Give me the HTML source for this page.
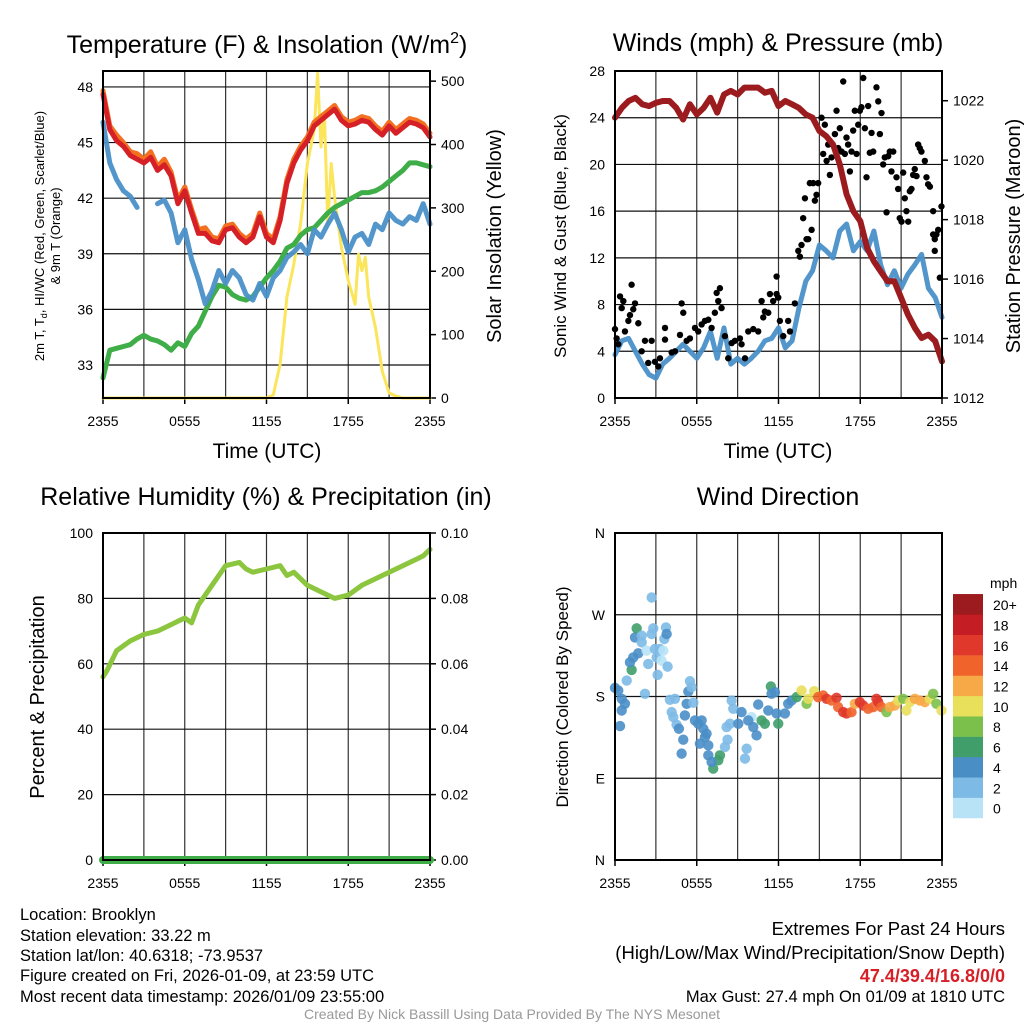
<!DOCTYPE html>
<html><head><meta charset="utf-8"><style>
html,body{margin:0;padding:0;background:#fff;}
svg{display:block;font-family:"Liberation Sans",sans-serif;}
</style></head><body>
<svg id="c" width="1024" height="1024" viewBox="0 0 1024 1024" xmlns="http://www.w3.org/2000/svg">
<g id="g"></g>
<g font-size="16.5" fill="#000">
<text x="20" y="920">Location: Brooklyn</text>
<text x="20" y="941">Station elevation: 33.22 m</text>
<text x="20" y="961">Station lat/lon: 40.6318; -73.9537</text>
<text x="20" y="981">Figure created on Fri, 2026-01-09, at 23:59 UTC</text>
<text x="20" y="1002">Most recent data timestamp: 2026/01/09 23:55:00</text>
<text x="1005" y="935" font-size="18.5" text-anchor="end">Extremes For Past 24 Hours</text>
<text x="1005" y="959" font-size="18.5" text-anchor="end">(High/Low/Max Wind/Precipitation/Snow Depth)</text>
<text x="1005" y="982" font-size="18" font-weight="bold" fill="#d62027" text-anchor="end">47.4/39.4/16.8/0/0</text>
<text x="1005" y="1002" text-anchor="end">Max Gust: 27.4 mph On 01/09 at 1810 UTC</text>
<text x="512" y="1019" font-size="14" fill="#999" text-anchor="middle">Created By Nick Bassill Using Data Provided By The NYS Mesonet</text>
</g>
</svg>
<script>
// ---------- data ----------
const halfHours=[0,0.5,1,1.5,2,2.5,3,3.5,4,4.5,5,5.5,6,6.5,7,7.5,8,8.5,9,9.5,10,10.5,11,11.5,12,12.5,13,13.5,14,14.5,15,15.5,16,16.5,17,17.5,18,18.5,19,19.5,20,20.5,21,21.5,22,22.5,23,23.5,24];
const tempValues=[47.6,45.7,45.1,44.8,44.3,44.1,43.9,44.2,43.5,43.8,43.2,41.7,42.4,41.2,40.1,40.1,39.7,39.6,40.3,40.4,39.9,39.6,39.9,41.0,39.9,39.6,40.8,42.8,43.9,44.6,45.1,45.9,46.2,46.5,46.8,46.2,45.9,46.0,46.2,46.1,45.7,45.4,45.9,45.5,45.8,46.1,46.0,45.8,45.3];
const temp9mValues=[47.8,45.9,45.4,45.0,44.5,44.4,44.1,44.5,43.7,44.1,43.4,41.9,42.6,41.4,40.3,40.4,39.9,39.8,40.5,40.6,40.1,39.8,40.1,41.2,40.1,39.8,41.0,43.0,44.1,44.8,45.3,46.1,46.4,46.7,47.0,46.4,46.1,46.2,46.4,46.3,45.9,45.6,46.1,45.7,46.0,46.3,46.2,46.0,45.5];
const dewValues=[32.3,33.8,33.9,34.0,34.1,34.4,34.6,34.4,34.3,34.1,33.8,34.2,34.0,34.7,35.1,35.9,36.7,37.3,37.2,36.8,36.6,36.5,36.7,37.2,37.7,38.1,38.6,39.3,39.5,40.0,40.3,40.4,40.8,41.2,41.5,41.7,41.9,42.1,42.3,42.3,42.4,42.6,42.9,43.2,43.5,43.9,43.9,43.8,43.7];
const chillValues=[46.1,43.9,43.0,42.4,42.1,41.5,null,null,41.7,41.9,41.2,39.6,40.3,38.7,37.6,36.3,37.0,38.1,37.4,38.1,37.7,36.8,36.5,37.4,36.7,37.7,38.1,38.8,39.1,39.5,39.0,40.3,39.9,40.6,41.2,40.3,39.1,39.9,40.1,39.5,40.6,40.3,41.2,40.8,40.6,41.0,40.8,41.7,40.6];
const solarTimes=[0,12,12.5,13,13.5,14,14.5,15,15.5,15.75,16,16.25,16.5,16.75,17,17.5,18,18.5,18.75,19,19.25,19.5,20,20.5,21,21.5,22,24];
const solarValues=[0,0,5,53,159,211,275,370,423,512,396,449,275,370,317,238,185,148,227,201,222,159,111,42,8,3,0,0];
const tempTicks=[33,36,39,42,45,48];
const solarTicks=[0,100,200,300,400,500];
const timeTickLabels=["2355","0555","1155","1755","2355"];
const windValues=[3.7,4.9,5.1,4.0,2.9,2.0,1.7,2.9,3.4,4.0,4.6,4.0,3.4,4.3,5.7,3.4,6.0,2.9,3.4,2.9,3.4,4.0,4.9,5.1,6.0,4.3,4.9,7.7,10.0,10.9,13.1,12.6,12.0,14.3,14.9,12.6,13.4,12.6,14.3,11.4,9.7,10.9,9.4,10.6,11.4,12.3,9.4,8.6,6.9];
const pressureValues=[1021.43,1021.76,1021.99,1022.10,1021.88,1021.82,1021.93,1021.99,1021.99,1021.76,1021.37,1021.88,1021.54,1021.76,1022.10,1021.60,1022.21,1022.33,1022.21,1022.44,1022.44,1022.44,1022.27,1022.33,1021.82,1021.99,1021.88,1021.76,1021.54,1021.43,1020.98,1020.81,1020.53,1019.86,1018.85,1018.28,1017.95,1017.05,1016.60,1016.26,1015.93,1015.93,1015.37,1014.81,1014.36,1014.02,1014.13,1013.91,1013.23];
const gustTimes=[0,0.12,0.24,0.37,0.49,0.61,0.73,0.98,1.10,1.22,1.34,1.47,1.71,1.96,2.20,2.44,2.69,2.93,3.18,3.30,3.67,3.67,4.16,4.40,4.77,4.89,5.01,5.26,5.50,5.87,6.11,6.36,6.60,6.85,7.09,7.33,7.46,7.58,7.70,7.82,8.07,8.31,8.56,8.80,9.17,9.29,9.54,9.78,10.15,10.51,10.76,10.88,11.00,11.25,11.37,11.61,11.86,11.86,11.98,12.10,12.35,12.71,12.84,13.20,13.45,13.57,13.69,13.81,13.94,14.06,14.18,14.30,14.43,14.55,14.67,14.79,14.91,15.16,15.28,15.40,15.53,15.65,15.77,15.89,16.14,16.26,16.38,16.50,16.63,16.75,16.87,16.99,17.11,17.24,17.36,17.48,17.60,17.73,17.85,17.97,18.09,18.22,18.34,18.46,18.58,18.70,18.83,18.95,19.19,19.32,19.44,19.56,19.68,19.80,19.93,20.05,20.17,20.29,20.42,20.66,20.78,20.90,21.03,21.15,21.27,21.39,21.52,21.64,21.76,21.88,22.00,22.13,22.25,22.37,22.49,22.74,22.86,22.98,23.11,23.35,23.47,23.59,23.72,23.84,23.96,23.35,23.47];
const gustValues=[5.9,5.1,4.6,8.7,7.7,8.3,5.7,6.6,7.1,9.7,7.6,8.1,6.4,4.0,4.9,3.0,4.9,3.1,2.7,3.4,6.0,5.0,3.9,4.0,5.4,8.1,7.3,4.9,5.1,6.0,5.7,6.3,6.6,6.7,6.0,7.3,9.0,8.3,9.4,7.7,5.3,3.4,4.7,4.9,5.1,4.6,3.4,5.7,5.9,5.7,8.3,6.9,7.4,7.3,8.9,8.3,8.9,10.4,8.6,6.6,5.3,6.6,5.7,8.1,12.6,12.1,13.1,15.4,17.1,13.6,13.6,18.4,14.4,18.4,16.9,17.4,18.4,24.0,20.9,23.4,20.3,21.7,19.1,20.6,22.6,24.6,21.4,23.1,21.1,27.1,20.9,22.3,21.7,19.4,21.1,22.9,24.6,20.9,23.4,24.6,24.9,27.4,23.1,18.9,25.0,21.0,22.7,21.1,26.6,25.4,22.6,24.4,20.0,20.6,15.9,20.7,21.1,19.4,21.1,18.9,17.9,15.4,15.1,19.3,17.1,16.0,15.1,17.7,17.9,19.1,19.6,19.0,21.7,21.4,21.1,20.3,18.9,18.3,18.1,16.0,13.6,14.0,14.4,10.3,16.4,14.0,12.6];
const windTicks=[0,4,8,12,16,20,24,28];
const pressureTicks=[1012,1014,1016,1018,1020,1022];
const rhTimes=[0,0.3,1,2,3,4,5,5.5,6,6.5,7,8,9,10,10.5,11,12,13,13.5,14,15,16,17,18,19,20,21,22,23,23.5,24];
const rhValues=[56,58,64,67,69,70,72,73,74,72.5,78,84,90,91,89,88,89,90,87,88,84,82,80,81,84,86,88,90,92,93,95];
const precipValues=[0,0];
const rhTicks=[0,20,40,60,80,100];
const precipTickLabels=["0.00","0.02","0.04","0.06","0.08","0.10"];
const dirTimes=[0,0.24,0.49,0.73,0.49,0.37,0.86,1.22,1.10,1.34,1.71,1.47,1.59,1.96,1.96,2.32,2.44,2.20,2.69,2.69,2.81,2.93,3.06,3.13,3.30,3.42,3.55,3.62,3.74,3.79,3.86,4.03,4.16,4.40,4.28,4.52,4.69,5.26,5.13,5.38,5.50,5.62,5.75,5.87,6.11,6.36,6.48,6.60,8.56,8.68,8.44,8.19,9.05,9.29,10.02,9.78,10.51,10.15,10.39,10.76,11.00,11.25,11.44,11.49,11.74,11.86,11.98,12.47,12.71,12.96,13.33,13.69,14.06,14.18,14.62,14.91,15.28,15.53,15.89,16.26,16.38,16.75,16.99,17.36,17.60,17.97,18.22,18.58,18.95,19.19,19.32,19.56,19.93,20.17,20.54,20.78,21.15,21.39,21.64,22.00,22.37,22.74,23.11,23.35,23.59,23.96,4.89,5.01,6.23,6.85,6.85,7.70,7.58,7.21,8.07,8.26,9.54,9.66,7.09,6.72];
const dirValues=[189.5,186.6,177.5,172,164.6,147.4,197.5,209.3,217.6,223,227.5,245,255,247,239.6,230.5,215.9,183,289,248.8,255,232.3,223,203.8,232.3,219.5,230.5,243.3,256,248.8,212.9,176.4,162.8,177.5,157.3,148.9,144.5,172,159.1,185.5,196.8,190.2,173,153.7,150,153.7,144.5,135.3,175.6,166.5,150,146.3,150,162.8,157.3,153.7,171.2,146.3,137.2,153.7,150,164.6,191,183,184.7,161.3,150,161.3,172,175.6,179.3,186.6,172,177.5,185.8,179.3,181.1,177.5,175.6,178.6,168.3,162.8,161.3,162.8,172,173.8,170.1,166.5,168.3,177.5,173.8,168.3,162.8,168.3,170.1,175.6,177.5,164.6,173.8,177.5,175.6,173.8,177.5,183,172,164.6,117.1,132.5,128.1,126.2,115.2,115.2,109.8,100.6,124.4,132.5,111.6,122.6,107.9,139.1];
const dirSpeeds=[4.5,4,4,4,4,4,2.5,6,4,4,4,4,6,2.5,2.5,1,2.5,2.5,2.5,2.5,2.5,2.5,2.5,2.5,2.5,1,1,2.5,2.5,4,2.5,2.5,2.5,2.5,2.5,2.5,4,4,4,4,2.5,2.5,2.5,4,4,4,4,4,2.5,2.5,2.5,2.5,4,4,1,4,4,4,4,6,6,4,6,4,4,4,6,4,4,4,6,10,8,10,10,14,14,16,14,16,14,16,16,14,12,16,16,14,14,16,16,14,8,12,12,10,8,10,10,12,12,12,10,8,8,10,4,4,4,4,4,6,6,6,2.5,2.5,2.5,2.5,4,4];
const dirTickLabels=["N","E","S","W","N"];
const speedBinLabels=["0","2","4","6","8","10","12","14","16","18","20+"];
const speedColors=["#b8e3f7","#7dbae5","#4a8ec6","#3f9e6a","#7cc04c","#e8df5a","#f7a847","#f0632b","#e0382b","#c51d24","#9b1b1e"];

// ---------- helpers ----------
const NS="http://www.w3.org/2000/svg";
const root=document.getElementById('g');
function mk(tag,attrs,parent){const e=document.createElementNS(NS,tag);for(const k in attrs)e.setAttribute(k,attrs[k]);(parent||root).appendChild(e);return e;}
function txt(s,attrs,parent){const e=mk('text',attrs,parent);e.textContent=s;return e;}
function lin(d0,d1,r0,r1){return v=>r0+(v-d0)*(r1-r0)/(d1-d0);}
function pathFrom(xs,ys,fx,fy){let d="",pen=false;for(let i=0;i<xs.length;i++){if(ys[i]===null||ys[i]===undefined){pen=false;continue;}d+=(pen?"L":"M")+fx(xs[i]).toFixed(1)+","+fy(ys[i]).toFixed(1);pen=true;}return d;}

function panel(name,L,T){
  const W=327,H=327;
  const grp=mk('g',{});
  
  
  return {g:grp,L:L,T:T,R:L+W,B:T+H,x:lin(0,24,L,L+W)};
}
function frame(p,yTicks,fy,labels){
  for(let h=3;h<24;h+=3){const gl=mk('line',{x1:p.x(h),x2:p.x(h),y1:p.T,y2:p.B,stroke:'#333','stroke-width':1.2},p.g);}
  yTicks.forEach((v,i)=>{const y=fy(v);
    const gl=mk('line',{x1:p.L,x2:p.R,y1:y,y2:y,stroke:'#111','stroke-width':1.2},p.g);
    const t=txt(labels[i],{x:p.L-10,y:y+5,'font-size':14,'text-anchor':'end'},p.g);});
  timeTickLabels.forEach((s,i)=>{const x=p.x(i*6);
    mk('line',{x1:x,x2:x,y1:p.B,y2:p.B+6,stroke:'#000','stroke-width':1.5},p.g);
    const t=txt(s,{x:x,y:p.B+28,'font-size':14,'text-anchor':'middle'},p.g);});
}
function border(p){const r=mk('rect',{x:p.L,y:p.T,width:p.R-p.L,height:p.B-p.T,fill:'none',stroke:'#000','stroke-width':2},p.g);}
function rightAxis(p,ticks,fy,labels){ticks.forEach((v,i)=>{const y=fy(v);mk('line',{x1:p.R,x2:p.R+6,y1:y,y2:y,stroke:'#000','stroke-width':1.5},p.g);
  const t=txt(labels[i],{x:p.R+11,y:y+5,'font-size':14},p.g);});}
function series(p,xs,ys,fy,color,w,name,op){const e=mk('path',{d:pathFrom(xs,ys,p.x,fy),fill:'none',stroke:color,'stroke-width':w,'stroke-linejoin':'round','stroke-linecap':'round',opacity:op||1},p.g);return e;}
function title(s,x,y,name,size){const t=txt(s,{x:x,y:y,'font-size':size||25,'text-anchor':'middle'});return t;}
function vtitle(s,x,y,size,name){const t=txt(s,{x:0,y:0,'font-size':size,'text-anchor':'middle',transform:`translate(${x},${y}) rotate(-90)`});return t;}

// ---------- panel 1: temperature ----------
const p1=panel('temperature-panel',103,71);
const fT=lin(31.22,48.86,p1.B,p1.T), fS=lin(0,516,p1.B,p1.T);
frame(p1,tempTicks,fT,tempTicks.map(String));
rightAxis(p1,solarTicks,fS,solarTicks.map(String));
series(p1,solarTimes,solarValues,fS,'#fbe55a',3,'solar-line');
series(p1,halfHours,dewValues,fT,'#3fae49',5,'dewpoint-line');
series(p1,halfHours,chillValues,fT,'#4a90c8',5,'windchill-line',0.95);
series(p1,halfHours,temp9mValues,fT,'#f37021',5,'temp-9m-line');
series(p1,halfHours,tempValues,fT,'#d62027',5,'temp-2m-line');
border(p1);
const t1=txt('',{x:267,y:53,'font-size':25,'text-anchor':'middle'});
t1.innerHTML='Temperature (F) &amp; Insolation (W/m<tspan dy="-10" font-size="16">2</tspan><tspan dy="10">)</tspan>';
title('Time (UTC)',267,458,'temperature-x-title',21);
const yt=txt('',{x:0,y:0,'font-size':13,'text-anchor':'middle',transform:'translate(44,236) rotate(-90)'});
yt.innerHTML='2m T, T<tspan dy="3" font-size="9">d</tspan><tspan dy="-3">, HI/WC (Red, Green, Scarlet/Blue)</tspan>';
vtitle('& 9m T (Orange)',60,236,13,'temperature-y-title-2');
vtitle('Solar Insolation (Yellow)',501,236,20,'solar-y-title');

// ---------- panel 2: winds ----------
const p2=panel('winds-panel',615,71);
const fW=lin(0,28,p2.B,p2.T), fP=lin(1012,1023,p2.B,p2.T);
frame(p2,windTicks,fW,windTicks.map(String));
rightAxis(p2,pressureTicks,fP,pressureTicks.map(String));
series(p2,halfHours,windValues,fW,'#4a90c8',5,'sonic-wind-line',0.95);
gustTimes.forEach((t,i)=>{const c=mk('circle',{cx:p2.x(t),cy:fW(gustValues[i]),r:3.2,fill:'#000'},p2.g);
  
  });
series(p2,halfHours,pressureValues,fP,'#9b1b1e',6,'pressure-line');
border(p2);
title('Winds (mph) & Pressure (mb)',778,51,'winds-title');
title('Time (UTC)',778,458,'winds-x-title',21);
vtitle('Sonic Wind & Gust (Blue, Black)',566,236,17,'wind-y-title');
vtitle('Station Pressure (Maroon)',1020,236,20,'pressure-y-title');

// ---------- panel 3: RH ----------
const p3=panel('humidity-panel',103,533);
const fR=lin(0,100,p3.B,p3.T);
frame(p3,rhTicks,fR,rhTicks.map(String));
rightAxis(p3,rhTicks,fR,precipTickLabels);
series(p3,rhTimes,rhValues,fR,'#8cc63f',5,'humidity-line');
series(p3,[0,24],precipValues,fR,'#3fae49',8,'precip-line');
border(p3);
title('Relative Humidity (%) & Precipitation (in)',266,505,'humidity-title');
vtitle('Percent & Precipitation',44,697,20,'humidity-y-title');

// ---------- panel 4: wind direction ----------
const p4=panel('wind-direction-panel',615,533);
const fD=lin(0,360,p4.B,p4.T);
frame(p4,[0,90,180,270,360],fD,dirTickLabels);
dirTimes.forEach((t,i)=>{const b=Math.min(10,Math.floor(dirSpeeds[i]/2));
  const c=mk('circle',{cx:p4.x(t),cy:fD(dirValues[i]),r:5.2,fill:speedColors[b],opacity:0.9},p4.g);
  
  });
border(p4);
title('Wind Direction',778,505,'wind-direction-title');
vtitle('Direction (Colored By Speed)',568,697,17,'direction-y-title');
const cb=mk('g',{});
const lt=txt('mph',{x:990,y:588,'font-size':14},cb);
speedBinLabels.forEach((s,i)=>{const y=818-(i+1)*20.36;
  const r=mk('rect',{x:953,y:y,width:30,height:20.6,fill:speedColors[i]},cb);
  const t=txt(s,{x:993,y:y+16,'font-size':14},cb);});
</script>
</body></html>
